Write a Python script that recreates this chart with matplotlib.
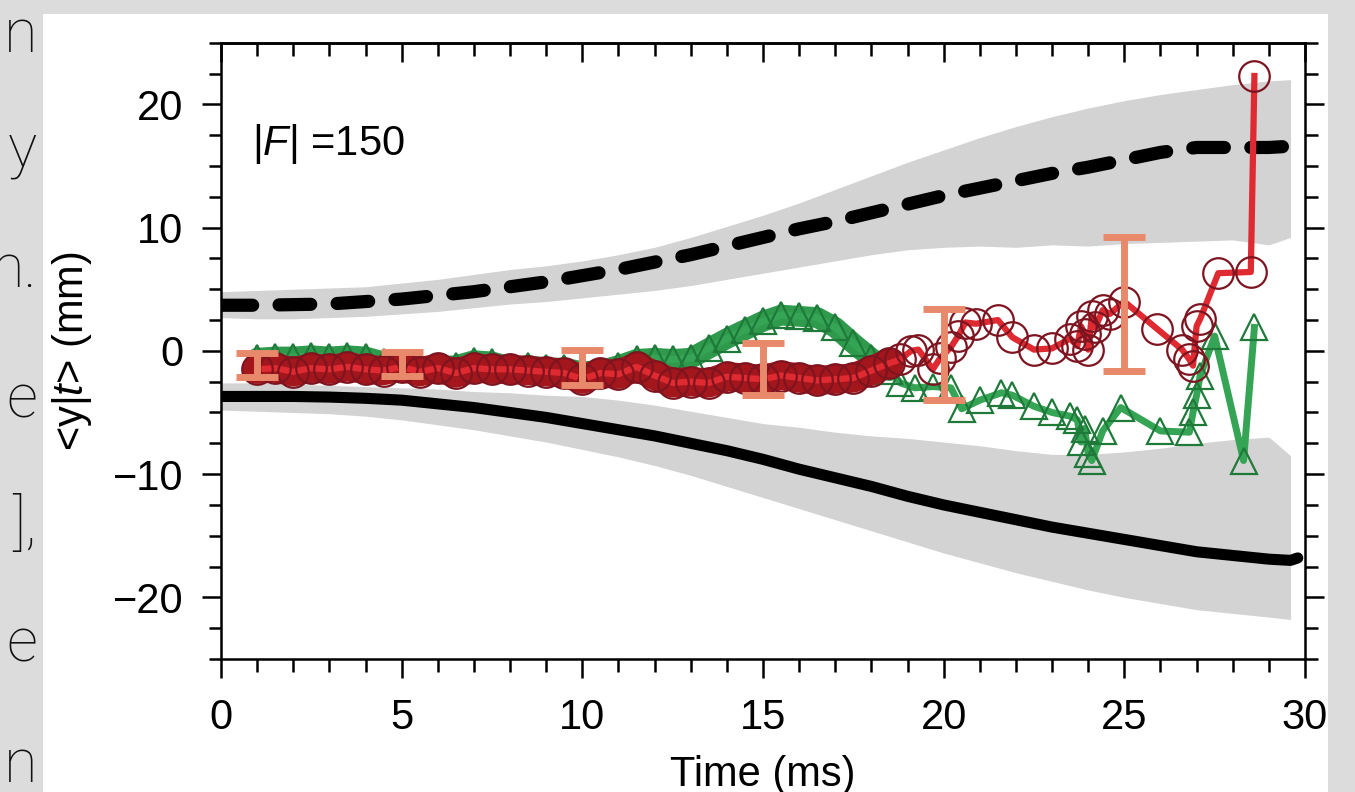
import matplotlib
matplotlib.use("Agg")
import matplotlib.pyplot as plt
from matplotlib.ticker import MultipleLocator
from matplotlib.patches import Rectangle

# Fuentes: Liberation Sans (metrica Arial) y cursiva para la F y la t
plt.rcParams["font.family"] = ["Liberation Sans", "DejaVu Sans"]
plt.rcParams["mathtext.fontset"] = "custom"
plt.rcParams["mathtext.rm"] = "Liberation Sans"
plt.rcParams["mathtext.it"] = "Liberation Sans:italic"

# ---------------- Datos ----------------
# Bandas grises y lineas medias (negra continua / discontinua)
t_band = [0, 1, 2, 3, 4, 5, 6, 7, 8, 9, 10, 11, 12, 13, 14, 15, 16, 17, 18, 19,
          20, 21, 22, 23, 24, 25, 26, 27, 28, 29, 29.6]
upper_hi = [4.8, 4.9, 5.0, 5.1, 5.2, 5.5, 5.8, 6.2, 6.6, 6.9, 7.3, 7.8, 8.4, 9.2, 10.1, 11.0,
            12.0, 13.1, 14.2, 15.3, 16.3, 17.3, 18.2, 19.0, 19.7, 20.3, 20.8, 21.2, 21.6, 21.9, 22.0]
upper_lo = [2.7, 2.6, 2.6, 2.7, 2.8, 3.0, 3.2, 3.5, 3.8, 4.0, 4.3, 4.6, 4.9, 5.3, 5.8, 6.3,
            6.8, 7.3, 7.8, 8.2, 8.4, 8.5, 8.4, 8.6, 8.5, 8.7, 8.8, 8.9, 9.0, 8.6, 9.2]
lower_hi = [-2.6, -2.6, -2.7, -2.8, -2.9, -3.0, -3.1, -3.3, -3.4, -3.6, -3.7, -4.0, -4.4, -4.9,
            -5.4, -5.9, -6.2, -6.6, -6.9, -7.1, -7.4, -7.7, -8.1, -8.4, -8.4, -8.2, -7.9, -7.5,
            -7.2, -7.0, -8.5]
lower_lo = [-4.8, -4.9, -5.0, -5.1, -5.3, -5.6, -6.0, -6.4, -6.9, -7.4, -8.0, -8.6, -9.3, -10.1,
            -11.0, -11.9, -12.8, -13.7, -14.6, -15.5, -16.4, -17.2, -18.0, -18.7, -19.4, -20.0,
            -20.5, -21.0, -21.3, -21.6, -21.8]

t_mean = [0, 1, 2, 3, 4, 5, 6, 7, 8, 9, 10, 11, 12, 13, 14, 15, 16, 17, 18, 19, 20, 21, 22,
          23, 24, 25, 26, 27, 28, 29, 29.6, 29.8]
mean_hi = [3.7, 3.7, 3.75, 3.8, 4.0, 4.2, 4.5, 4.8, 5.2, 5.6, 6.1, 6.6, 7.2, 7.8, 8.5, 9.2,
           9.9, 10.5, 11.2, 11.9, 12.6, 13.2, 13.8, 14.4, 14.9, 15.5, 16.1, 16.5, 16.5, 16.5,
           16.6, 16.2]
mean_lo = [-3.7, -3.7, -3.7, -3.75, -3.85, -4.0, -4.3, -4.6, -5.0, -5.4, -5.9, -6.4, -6.9,
           -7.5, -8.1, -8.8, -9.6, -10.3, -11.0, -11.8, -12.5, -13.1, -13.7, -14.3, -14.8,
           -15.3, -15.8, -16.3, -16.6, -16.9, -17.0, -16.8]

# Serie roja (circulos): tramo denso y tramo disperso
red_t_dense = [1.0, 1.5, 2.0, 2.5, 3.0, 3.5, 4.0, 4.5, 5.0, 5.5, 6.0, 6.5, 7.0, 7.5, 8.0, 8.5,
               9.0, 9.5, 10.0, 10.5, 11.0, 11.5, 12.0, 12.5, 13.0, 13.5, 14.0, 14.5, 15.0,
               15.5, 16.0, 16.5, 17.0, 17.5, 18.0, 18.5]
red_y_dense = [-1.5, -1.4, -1.7, -1.4, -1.5, -1.3, -1.5, -1.6, -1.3, -1.7, -1.4, -1.8, -1.4,
               -1.5, -1.5, -1.6, -1.7, -1.8, -2.3, -1.8, -1.9, -1.3, -2.0, -2.6, -2.5, -2.6,
               -2.1, -2.2, -2.3, -2.0, -2.2, -2.4, -2.3, -2.2, -1.6, -1.0]
red_t_sparse = [18.8, 19.1, 19.3, 19.7, 19.9, 20.2, 20.4, 20.6, 20.9, 21.5, 21.9, 22.5, 23.0,
                23.5, 23.7, 23.8, 23.9, 24.0, 24.1, 24.2, 24.4, 24.6, 25.0, 25.9, 26.6, 26.8,
                26.9, 27.0, 27.1, 27.6, 28.5, 28.6]
red_y_sparse = [-0.7, 0.0, 0.1, -1.5, -0.6, 0.3, 1.2, 2.3, 2.2, 2.5, 1.1, 0.1, 0.2, 1.0, 0.4,
                2.0, 1.4, 0.1, 2.8, 1.9, 3.3, 3.0, 4.0, 1.8, 0.1, -0.7, -1.2, 2.0, 2.6, 6.3,
                6.4, 22.3]

# Serie verde (triangulos)
green_t_dense = red_t_dense
green_y_dense = [-0.6, -0.5, -0.5, -0.4, -0.5, -0.4, -0.5, -0.9, -1.3, -1.4, -1.3, -1.2, -0.8,
                 -0.9, -1.3, -1.2, -1.4, -1.4, -1.7, -1.6, -1.2, -0.7, -0.6, -0.7, -0.6, 0.2,
                 1.0, 1.7, 2.4, 2.9, 2.8, 2.7, 1.9, 0.6, -0.6, -1.6]
green_t_sparse = [18.8, 19.2, 19.7, 20.2, 20.5, 21.0, 21.6, 21.9, 22.5, 23.0, 23.5, 23.7, 23.8,
                  23.9, 24.0, 24.1, 24.4, 24.9, 26.0, 26.8, 26.9, 27.0, 27.1, 27.5, 28.3, 28.6]
green_y_sparse = [-2.6, -3.0, -2.9, -3.0, -4.7, -4.0, -3.4, -3.6, -4.5, -5.0, -5.3, -5.6, -7.4,
                  -6.3, -8.4, -8.9, -6.5, -4.6, -6.5, -6.6, -5.0, -3.6, -2.0, 1.2, -8.9, 1.9]

# Barras de error (salmon)
eb_t = [1, 5, 10, 15, 20, 25]
eb_y = [-1.15, -1.05, -1.35, -1.45, -0.3, 3.8]
eb_err = [0.95, 0.95, 1.45, 2.1, 3.7, 5.4]

x_ticks = [0, 5, 10, 15, 20, 25, 30]
y_ticks = [-20, -10, 0, 10, 20]

# Restos de texto de la diapositiva a la izquierda
side_words = ["n", "y", "n.", "e", "],", "e", "n"]
side_y_px = [35, 150, 270, 400, 525, 645, 765]

# ---------------- Figura ----------------
W, H = 1355, 792
fig = plt.figure(figsize=(W / 100, H / 100), dpi=100)
fig.patch.set_facecolor("#dcdcdc")
fig.add_artist(Rectangle((43 / W, 0), (1328 - 43) / W, 1 - 14 / H,
                         transform=fig.transFigure, facecolor="white",
                         edgecolor="none", zorder=0))

for word, ypx in zip(side_words, side_y_px):
    fig.text(37 / W, 1 - ypx / H, word, ha="right", va="center", fontsize=44,
             family=["Roboto", "Lato", "DejaVu Sans"], fontweight="light",
             color="#111111")

ax = fig.add_axes([221 / W, 1 - 659 / H, 1084 / W, (659 - 42.7) / H])

# Bandas grises
ax.fill_between(t_band, upper_lo, upper_hi, color="#d3d3d3", lw=0, zorder=1)
ax.fill_between(t_band, lower_lo, lower_hi, color="#d3d3d3", lw=0, zorder=1)

# Medias
ax.plot(t_mean, mean_lo, color="black", lw=8, solid_capstyle="round", zorder=2)
ax.plot(t_mean, mean_hi, color="black", lw=9.5, dashes=(2.4, 2.0),
        dash_capstyle="round", zorder=2)

# Serie verde
green_t = green_t_dense + green_t_sparse
green_y = green_y_dense + green_y_sparse
ax.plot(green_t_dense, green_y_dense, color="#2f9a4c", lw=15,
        solid_joinstyle="round", solid_capstyle="round", zorder=3)
ax.plot(green_t, green_y, color="#35a455", lw=5, marker="^", ms=19,
        mfc="none", mec="#1f7a3a", mew=1.6, zorder=3)

# Serie roja
red_t = red_t_dense + red_t_sparse
red_y = red_y_dense + red_y_sparse
ax.plot(red_t_dense, red_y_dense, color="#a3161b", lw=21,
        solid_joinstyle="round", solid_capstyle="round", zorder=4)
ax.plot(red_t, red_y, color="#de2a30", lw=4.5, marker="o", ms=22,
        mfc="none", mec="#7d1420", mew=1.6, zorder=4)

# Barras de error
ax.errorbar(eb_t, eb_y, yerr=eb_err, fmt="none", ecolor="#e8896b",
            elinewidth=5, capsize=15, capthick=5, zorder=5)

ax.text(0.86, 15.9, r"|$F$| =150", fontsize=30, va="baseline", ha="left")

# Ejes y marcas
ax.set_xlim(0, 30)
ax.set_ylim(-25, 25)
ax.set_xticks(x_ticks)
ax.set_yticks(y_ticks)
ax.xaxis.set_minor_locator(MultipleLocator(1))
ax.yaxis.set_minor_locator(MultipleLocator(2.5))
for s in ax.spines.values():
    s.set_linewidth(1.8)
ax.tick_params(axis="x", which="both", bottom=True, top=False, direction="out",
               width=1.8, labelsize=30, pad=14)
ax.tick_params(axis="y", which="both", left=True, right=True, direction="out",
               width=1.8, labelsize=30, pad=13)
ax.tick_params(which="major", length=14)
ax.tick_params(which="minor", length=9)

top = ax.secondary_xaxis("top")
top.set_xticks(x_ticks)
top.xaxis.set_minor_locator(MultipleLocator(1))
top.tick_params(axis="x", which="both", direction="in", labeltop=False, width=1.8)
top.tick_params(which="major", length=14)
top.tick_params(which="minor", length=9)
top.spines["top"].set_linewidth(1.8)

ax.set_xlabel("Time (ms)", fontsize=30)
ax.xaxis.set_label_coords(0.5, -0.155)
ax.set_ylabel(r"<y|$t$> (mm)", fontsize=30)
ax.yaxis.set_label_coords(-0.117, 0.5)

fig.savefig("out.png", dpi=100)
